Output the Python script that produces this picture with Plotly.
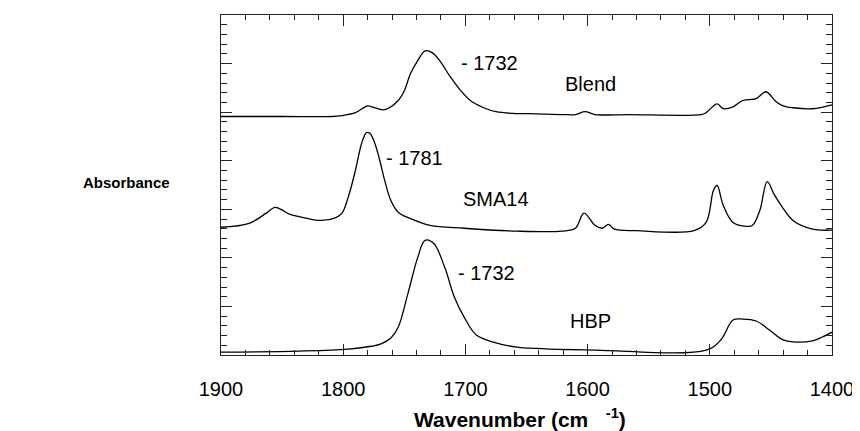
import plotly.graph_objects as go

# Wavenumber (cm-1) and absorbance (offset, arbitrary units)
blend_x = [1900, 1850, 1809, 1801, 1790, 1782, 1780, 1774, 1766, 1755, 1750, 1745, 1739,
           1733, 1727, 1721, 1713, 1705, 1696, 1685, 1675, 1658, 1648, 1620, 1610,
           1602, 1594, 1567, 1507, 1503, 1494, 1489, 1481, 1473, 1462, 1454, 1446,
           1440, 1432, 1416, 1400]
blend_y = [4.91, 4.91, 4.91, 4.93, 4.99, 5.11, 5.13, 5.09, 5.05, 5.24, 5.44, 5.79, 6.06,
           6.26, 6.22, 6.06, 5.75, 5.48, 5.24, 5.09, 5.01, 4.97, 4.97, 4.95, 4.95,
           5.01, 4.95, 4.95, 4.95, 4.99, 5.17, 5.07, 5.11, 5.24, 5.28, 5.42, 5.22,
           5.13, 5.09, 5.07, 5.15]

sma_x = [1900, 1877, 1863, 1856, 1851, 1844, 1836, 1818, 1806, 1801, 1796, 1790, 1785,
         1781, 1778, 1774, 1770, 1766, 1761, 1755, 1745, 1729, 1701, 1658, 1621,
         1610, 1603, 1594, 1588, 1583, 1578, 1560, 1513, 1503, 1497, 1494, 1489,
         1481, 1470, 1465, 1459, 1453, 1447, 1440, 1432, 1416, 1408, 1400]
sma_y = [2.63, 2.71, 2.92, 3.04, 3.00, 2.90, 2.85, 2.77, 2.83, 2.92, 3.24, 3.80, 4.35,
         4.58, 4.56, 4.35, 4.00, 3.59, 3.18, 2.94, 2.81, 2.67, 2.61, 2.55, 2.55,
         2.61, 2.92, 2.67, 2.61, 2.69, 2.59, 2.56, 2.56, 2.73, 3.39, 3.49, 3.08,
         2.73, 2.65, 2.67, 2.98, 3.57, 3.29, 3.02, 2.77, 2.59, 2.57, 2.57]

hbp_x = [1900, 1836, 1796, 1777, 1769, 1761, 1755, 1747, 1739, 1733, 1726, 1717, 1709,
         1701, 1691, 1675, 1658, 1648, 1594, 1503, 1491, 1481, 1473, 1462, 1451,
         1440, 1432, 1416, 1408, 1400]
hbp_y = [0.06, 0.08, 0.12, 0.18, 0.23, 0.35, 0.57, 1.27, 2.01, 2.36, 2.30, 1.81, 1.19,
         0.78, 0.41, 0.25, 0.16, 0.14, 0.10, 0.10, 0.31, 0.72, 0.74, 0.70, 0.51,
         0.31, 0.27, 0.29, 0.37, 0.47]

labels = ["- 1732", "Blend", "- 1781", "SMA14", "- 1732", "HBP"]
label_x = [1705, 1620, 1767, 1704, 1708, 1616]
label_y = [6.02, 5.57, 4.05, 3.21, 1.69, 0.69]

FONT = "Liberation Sans, Arial, sans-serif"

fig = go.Figure()
for xs, ys in [(blend_x, blend_y), (sma_x, sma_y), (hbp_x, hbp_y)]:
    fig.add_trace(go.Scatter(x=xs, y=ys, mode="lines",
                             line=dict(color="black", width=1.3, shape="spline", smoothing=1.0),
                             showlegend=False, hoverinfo="skip"))

for t, x, y in zip(labels, label_x, label_y):
    fig.add_annotation(x=x, y=y, xref="x", yref="y", text=t, showarrow=False,
                       xanchor="left", yanchor="middle",
                       font=dict(family=FONT, size=20, color="black"))

fig.add_annotation(x=(125 - 221) / 619, y=(355 - 182) / 341, xref="paper", yref="paper",
                   text="<b>Absorbance</b>", showarrow=False, xanchor="center", yanchor="middle",
                   font=dict(family=FONT, size=15, color="black"))

fig.add_annotation(x=(414 - 221) / 619, y=(355 - 418) / 341, xref="paper", yref="paper",
                   text="<b>Wavenumber (cm\u00a0\u00a0\u00a0<sup>-1</sup>)</b>", showarrow=False,
                   xanchor="left", yanchor="middle",
                   font=dict(family=FONT, size=21, color="black"))

axis_common = dict(showline=True, linecolor="#222", linewidth=1, mirror="allticks",
                   ticks="inside", tickcolor="#222", tickwidth=1, showgrid=False,
                   zeroline=False)

fig.update_xaxes(range=[1900, 1400], dtick=100, tick0=1400, ticklen=11,
                 minor=dict(dtick=20, ticklen=5, ticks="inside", tickcolor="#222", showgrid=False),
                 tickfont=dict(family=FONT, size=20, color="black"),
                 ticklabelstandoff=16, ticklabeloverflow="allow", **axis_common)
fig.update_yaxes(range=[0, 7], dtick=1, tick0=0, ticklen=11, showticklabels=False,
                 minor=dict(dtick=0.2, ticklen=6, ticks="inside", tickcolor="#222", showgrid=False),
                 **axis_common)

# page body has an 8px margin, so the figure is 8px smaller on each axis
fig.update_layout(width=852, height=423, margin=dict(l=213, r=20, t=6, b=76),
                  plot_bgcolor="white", paper_bgcolor="white",
                  font=dict(family=FONT, color="black"))

fig.write_html("out.html")
